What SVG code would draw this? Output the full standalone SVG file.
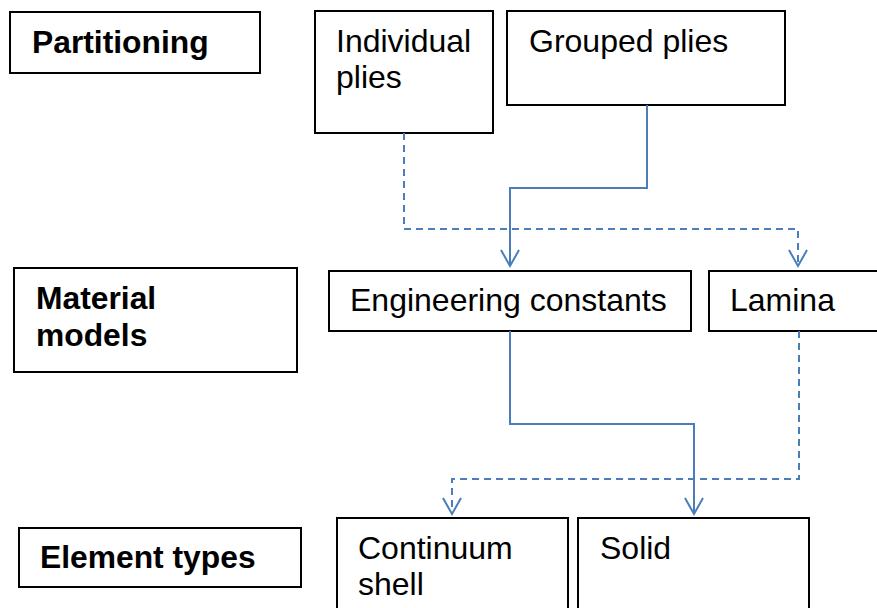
<svg xmlns="http://www.w3.org/2000/svg" width="877" height="608" viewBox="0 0 877 608">
  <style>
    .box { fill: #ffffff; stroke: #000000; stroke-width: 2; }
    .lbl { font-family: "Liberation Sans", Arial, sans-serif; font-size: 32px; fill: #000000; }
    .hdr { font-family: "Liberation Sans", Arial, sans-serif; font-size: 31.8px; font-weight: bold; fill: #000000; }
    .link { fill: none; stroke: #4a7ebb; stroke-width: 2; }
    .dash { stroke-dasharray: 7 5; }
  </style>
  <defs>
    <marker id="vhead" markerUnits="userSpaceOnUse" markerWidth="40" markerHeight="40" refX="0" refY="0" orient="auto" overflow="visible">
      <path d="M -16 -9 L 0 0 L -16 9" fill="none" stroke="#4a7ebb" stroke-width="2"/>
    </marker>
  </defs>
  <rect width="877" height="608" fill="#ffffff"/>

  <!-- row headings -->
  <g id="partitioning">
    <rect class="box" x="10" y="12" width="250" height="61"/>
    <text class="hdr" x="32" y="53">Partitioning</text>
  </g>
  <g id="material-models">
    <rect class="box" x="14" y="268" width="283" height="104"/>
    <text class="hdr" x="36" y="309">Material</text>
    <text class="hdr" x="36" y="346">models</text>
  </g>
  <g id="element-types">
    <rect class="box" x="19" y="528" width="282" height="59"/>
    <text class="hdr" x="40" y="568">Element types</text>
  </g>

  <!-- partitioning options -->
  <g id="individual-plies">
    <rect class="box" x="315" y="11" width="178" height="122"/>
    <text class="lbl" x="336" y="52">Individual</text>
    <text class="lbl" x="336" y="88">plies</text>
  </g>
  <g id="grouped-plies">
    <rect class="box" x="507" y="11" width="278" height="94"/>
    <text class="lbl" x="529" y="52">Grouped plies</text>
  </g>

  <!-- material model options -->
  <g id="engineering-constants">
    <rect class="box" x="329" y="271" width="362" height="60"/>
    <text class="lbl" x="350" y="311">Engineering constants</text>
  </g>
  <g id="lamina">
    <rect class="box" x="709" y="271" width="180" height="60"/>
    <text class="lbl" x="730" y="311">Lamina</text>
  </g>

  <!-- element type options -->
  <g id="continuum-shell">
    <rect class="box" x="337" y="518" width="231" height="100"/>
    <text class="lbl" x="358" y="559">Continuum</text>
    <text class="lbl" x="358" y="595">shell</text>
  </g>
  <g id="solid">
    <rect class="box" x="578" y="518" width="231" height="100"/>
    <text class="lbl" x="600" y="559">Solid</text>
  </g>

  <!-- connectors -->
  <g id="connectors">
    <path class="link dash" d="M 404 133 L 404 229 L 798 229 L 798 266" marker-end="url(#vhead)"/>
    <path class="link" d="M 647 105 L 647 188 L 510 188 L 510 266" marker-end="url(#vhead)"/>
    <path class="link" d="M 510 331 L 510 424 L 694 424 L 694 514" marker-end="url(#vhead)"/>
    <path class="link dash" d="M 799 331 L 799 479 L 452 479 L 452 514" marker-end="url(#vhead)"/>
  </g>
</svg>
